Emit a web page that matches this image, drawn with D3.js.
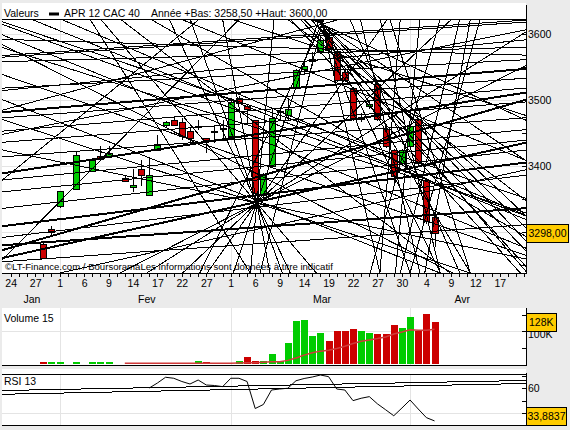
<!DOCTYPE html>
<html><head><meta charset="utf-8">
<script src="https://cdn.jsdelivr.net/npm/d3@7"></script>
<style>
html,body{margin:0;padding:0;background:#ebebeb;}
svg{display:block;font-family:"Liberation Sans",Arial,sans-serif;}
</style></head><body>
<svg id="c" width="570" height="430"></svg>
<script>
// ---------------- DATA ----------------
const dates = ["2012-01-30","2012-01-31","2012-02-01","2012-02-03","2012-02-07","2012-02-08","2012-02-09",
"2012-02-13","2012-02-14","2012-02-15","2012-02-16","2012-02-17","2012-02-20","2012-02-21","2012-02-22","2012-02-23","2012-02-24",
"2012-02-27","2012-02-28","2012-02-29","2012-03-01","2012-03-02","2012-03-05","2012-03-06","2012-03-07","2012-03-08","2012-03-09",
"2012-03-12","2012-03-13","2012-03-14","2012-03-15","2012-03-16","2012-03-19","2012-03-20","2012-03-21","2012-03-22","2012-03-23",
"2012-03-26","2012-03-27","2012-03-28","2012-03-29","2012-03-30","2012-04-02","2012-04-03","2012-04-04","2012-04-05"];
const open  = [3281,3304,3338,3364,3392,3415,3414, 3381,3367,3395,3355,3423,3461,3469,3466,3452,3458, 3441,3450,3455,3445,3503,3490,3469,3356,3399,3481, 3476,3518,3546,3558,3573,3595,3573,3542,3518,3471, 3490,3523,3455,3424,3404,3429,3471,3378,3322];
const high  = [3284,3309,3362,3422,3410,3430,3431, 3386,3395,3409,3413,3447,3468,3474,3472,3459,3470, 3443,3460,3470,3503,3506,3492,3470,3390,3487,3490, 3500,3547,3560,3572,3595,3600,3576,3548,3520,3480, 3500,3530,3460,3426,3426,3462,3473,3382,3336];
const low   = [3258.5,3296,3337,3363,3391,3409,3413, 3376,3361,3370,3354,3422,3459,3461,3439,3437,3455, 3419,3435,3438,3444,3494,3465,3343,3350,3398,3470, 3470,3517,3540,3552,3570,3575,3528,3527,3468,3466, 3486,3468,3428,3375,3400,3428,3402,3312,3278];
const close = [3260,3298.5,3361,3416,3409,3410,3419, 3377,3370,3386,3386,3433,3466,3462,3444,3442,3460, 3438,3452,3457,3496,3495,3485,3358,3387,3472,3483, 3485,3545,3550,3562,3590,3578,3530,3529,3472,3474, 3493,3470,3430,3384,3423,3460,3404,3316,3298];
const volume = [5,5,5,5,5,5,5, 1,1,1,1,1,1,1,1,1,10, 5,1,1,1,8,22,8,8,31,10, 65,131,134,84,93,71,99,99,105,101, 93,90,90,117,108,141,101,153,128];
const volumeDir = ["-","+","+","+","+","+","+", "+","+","+","+","+","+","+","+","+","+", "-","+","+","+","+","-","-","+","+","+", "+","+","+","+","+","-","-","-","-","+", "+","-","-","-","+","+","-","-","-"];
const volumeMA15 = [null,null,null,null,null,null,null, 2,2,2,2,2,2,2,2,2,2, 2,2,2,2,3,4,4,5,6.5,7, 11,18,27,34,39,42,47,54,62,69, 73,77,82,91,97,104,102,102,105];
const rsi13 = [null,null,null,null,null,null,null, null,null,null,60.2,64.2,68.8,68.0,65.4,63.4,66.6, 62.6,62.2,61.3,68.0,68.0,65.4,43.8,47.0,58.6,59.4, 60.0,66.0,67.8,69.0,70.6,69.3,59.4,58.6,50.1,52.0, 53.3,47.5,42.8,38.0,44.2,50.6,43.4,36.5,33.8837];

const xTickLabels = ["24","27","1","6","9","14","17","22","27","1","6","9","14","19","22","27","30","4","9","12","17"];
const monthLabels = ["Jan","Fev","Mar","Avr"];
const monthLabelAt = [2.6, 16.7, 38.2, 55.4];      // weekday index of month label
const monthStartIdx = [6, 27, 49];                  // 1 Feb, 1 Mar, 2 Apr
const priceTicks = [3600,3500,3400];
const priceGrid = [3600,3500,3400,3300];
const volTicks = [100];
const rsiTicks = [60];

// trend lines: [weekdayIndex1, price1, weekdayIndex2, price2]
const thinLines = [
 [-0.9,3565,63.1,3618],[-0.9,3558,63.1,3580],[-0.9,3518,63.1,3561],[-0.9,3473,63.1,3533],
 [-0.9,3453,63.1,3518],[-0.9,3436,63.1,3497],[-0.9,3414,63.1,3473],[-0.9,3379,63.1,3455],
 [-0.9,3361,63.1,3439],[-0.9,3336,63.1,3424],[-0.9,3292,63.1,3386],[-0.9,3255,63.1,3311],
 [-0.9,3614,34.3,3455],[-0.9,3598,50.2,3341],[2.4,3623,39.2,3439],[6.05,3623,63.1,3326],
 [13.4,3623,53.9,3238],[-0.9,3583,26.9,3409],[-0.9,3500,26.9,3364],[20.8,3623,63.1,3409],
 [26.9,3623,63.1,3477],[-0.9,3538,63.1,3265],[9.7,3623,29.4,3238],
 [-0.9,3618,18.3,3538],[-0.9,3579,23.2,3485],[17.1,3623,34.3,3500],[28.1,3623,15.9,3470],[23.2,3623,11.0,3500],
 [39.2,3601,63.1,3621],[35.5,3538,63.1,3606],[38.0,3561,63.1,3591],[41.6,3576,63.1,3568],
 [30.2,3344,13.4,3238],[30.2,3344,16.7,3238],[30.2,3344,21.1,3238],[30.2,3344,24.1,3238],
 [30.2,3344,27.3,3238],[30.2,3344,29.4,3238],[30.2,3344,31.8,3238],[30.2,3344,34.3,3238],
 [30.2,3344,-0.9,3424],[30.2,3344,-0.9,3470],[30.2,3344,11.0,3623],[30.2,3344,22.0,3623],
 [38.2,3615,63.1,3326],[38.2,3615,63.1,3288],[38.2,3615,56.4,3238],[38.2,3615,52.7,3238],
 [38.2,3615,49.0,3238],[38.2,3615,45.3,3238],[38.2,3615,63.1,3409],[38.2,3615,63.1,3470],
 [38.2,3615,23.2,3238],[38.2,3615,-0.9,3485],[38.2,3615,30.6,3238],
 [35.5,3623,50.2,3424],[36.7,3623,52.7,3432],[34.3,3623,47.2,3447],
 [47.8,3623,45.3,3238],[50.2,3623,47.2,3238],[52.7,3623,44.1,3238],[55.1,3623,47.8,3238],
 [56.4,3623,50.8,3238],[45.3,3623,52.7,3238],[46.5,3623,56.4,3238],[42.9,3623,50.2,3238],
 [41.6,3623,55.1,3238],[57.6,3623,49.0,3238],
 [6.05,3238,63.1,3394],[47.8,3470,63.1,3273],[45.3,3500,63.1,3242],[50.2,3470,63.1,3349]
];
const thickLines = [
 [-0.9,3389,63.1,3511],[-0.9,3309,63.1,3405],[-0.9,3261,63.1,3435],[-0.9,3280,63.1,3336],
 [17.1,3500,63.1,3547],[-0.9,3273,63.1,3500]
];
const rsiLines = [[-0.945,58.2,63.2,66.2],[-0.945,55.2,63.2,63.8]];

// ---------------- SETUP ----------------
const svg = d3.select("#c");
const RED = "#cc0000", GREEN = "#00cc00";
const t0 = Date.UTC(2012,0,24);
function wdIndex(s){
  const d = new Date(s+"T00:00:00Z");
  return d3.utcDays(new Date(t0), d).filter(v => v.getUTCDay()%6 !== 0).length;
}
const idx = dates.map(wdIndex);

const x = d3.scaleLinear().domain([-0.945, 63.1]).range([3, 525]);
const y = d3.scaleLinear().domain([3237.9, 3622.7]).range([273, 19]);
const yv = d3.scaleLinear().domain([0, 166.7]).range([364, 309]);
const yr = d3.scaleLinear().domain([30.6, 71.4]).range([425, 374]);

// panels
svg.append("rect").attr("width",570).attr("height",430).attr("fill","#ebebeb");
svg.append("rect").attr("x",2).attr("y",3).attr("width",524).attr("height",270).attr("fill","#fff");
svg.append("rect").attr("x",2).attr("y",308).attr("width",524).attr("height",57).attr("fill","#fff");
svg.append("rect").attr("x",2).attr("y",369).attr("width",524).attr("height",57).attr("fill","#fff");

const defs = svg.append("defs");
defs.append("clipPath").attr("id","cm").append("rect").attr("x",2).attr("y",19).attr("width",524).attr("height",254);
defs.append("clipPath").attr("id","cr").append("rect").attr("x",2).attr("y",374).attr("width",524).attr("height",51);

const grid = "#e4e4e4";
const g0 = svg.append("g").attr("shape-rendering","crispEdges");
priceGrid.forEach(p => g0.append("line").attr("x1",2).attr("x2",526).attr("y1",Math.round(y(p))+0.5).attr("y2",Math.round(y(p))+0.5).attr("stroke",grid));
monthStartIdx.forEach(i => {
  const xx = Math.round(x(i))+0.5;
  g0.append("line").attr("x1",xx).attr("x2",xx).attr("y1",19).attr("y2",273).attr("stroke",grid);
  g0.append("line").attr("x1",xx).attr("x2",xx).attr("y1",308).attr("y2",365).attr("stroke",grid);
  g0.append("line").attr("x1",xx).attr("x2",xx).attr("y1",374).attr("y2",425).attr("stroke",grid);
});
volTicks.forEach(v => g0.append("line").attr("x1",2).attr("x2",526).attr("y1",Math.round(yv(v))+0.5).attr("y2",Math.round(yv(v))+0.5).attr("stroke",grid));
g0.append("line").attr("x1",2).attr("x2",526).attr("y1",Math.round(yr(40))+0.5).attr("y2",Math.round(yr(40))+0.5).attr("stroke",grid);

// watermark
svg.append("text").attr("x",5).attr("y",270).attr("font-size",9.6).attr("fill","#000")
  .text("©LT-Finance.com / BoursoramaLes informations sont données à titre indicatif");

// candles
const cg = svg.append("g").attr("clip-path","url(#cm)").attr("shape-rendering","crispEdges");
dates.forEach((d,k) => {
  const cx = Math.round(x(idx[k]));
  cg.append("line").attr("x1",cx+0.5).attr("x2",cx+0.5).attr("y1",y(high[k])).attr("y2",y(low[k])).attr("stroke","#000");
  const top = y(Math.max(open[k],close[k])), bot = y(Math.min(open[k],close[k]));
  cg.append("rect").attr("x",cx-2.5).attr("y",top).attr("width",6).attr("height",Math.max(1,bot-top))
    .attr("fill", close[k] >= open[k] ? GREEN : RED).attr("stroke","#000");
});

// trend lines
function ext(l, sx, sy){
  const x1=sx(l[0]), y1=sy(l[1]), x2=sx(l[2]), y2=sy(l[3]);
  const dx=x2-x1, dy=y2-y1, k=1500/Math.hypot(dx,dy);
  return [x1-dx*k, y1-dy*k, x2+dx*k, y2+dy*k];
}
const tg = svg.append("g").attr("clip-path","url(#cm)").attr("shape-rendering","crispEdges");
thinLines.forEach(l => { const e = ext(l,x,y);
  tg.append("line").attr("x1",e[0]).attr("y1",e[1]).attr("x2",e[2]).attr("y2",e[3]).attr("stroke","#000").attr("stroke-width",1); });
thickLines.forEach(l => { const e = ext(l,x,y);
  tg.append("line").attr("x1",e[0]).attr("y1",e[1]).attr("x2",e[2]).attr("y2",e[3]).attr("stroke","#000").attr("stroke-width",2); });

// frame lines
const fr = svg.append("g").attr("shape-rendering","crispEdges").attr("stroke","#000");
fr.append("line").attr("x1",2).attr("x2",526).attr("y1",19.5).attr("y2",19.5);
fr.append("line").attr("x1",2).attr("x2",526).attr("y1",273.5).attr("y2",273.5);
fr.append("line").attr("x1",526.5).attr("x2",526.5).attr("y1",5).attr("y2",274);
fr.append("line").attr("x1",2).attr("x2",526).attr("y1",365.5).attr("y2",365.5);
fr.append("line").attr("x1",526.5).attr("x2",526.5).attr("y1",308).attr("y2",366);
fr.append("line").attr("x1",2).attr("x2",526).attr("y1",374.5).attr("y2",374.5);
fr.append("line").attr("x1",2).attr("x2",526).attr("y1",425.5).attr("y2",425.5);
fr.append("line").attr("x1",526.5).attr("x2",526.5).attr("y1",373).attr("y2",426);

d3.range(3250,3601,50).forEach(p => fr.append("line").attr("x1",522).attr("x2",526).attr("y1",Math.round(y(p))+0.5).attr("y2",Math.round(y(p))+0.5));
[50,100,150].forEach(v => fr.append("line").attr("x1",522).attr("x2",526).attr("y1",Math.round(yv(v))+0.5).attr("y2",Math.round(yv(v))+0.5));
[40,50,60,70].forEach(v => fr.append("line").attr("x1",522).attr("x2",526).attr("y1",Math.round(yr(v))+0.5).attr("y2",Math.round(yr(v))+0.5));

// x axis
const tickIdx = xTickLabels.map((t,k) => k*3);
const xAxis = d3.axisBottom(x).tickValues(tickIdx).tickFormat((d,k) => xTickLabels[k]).tickSize(0).tickPadding(7);
const xa = svg.append("g").attr("transform","translate(0,273)").call(xAxis);
xa.select(".domain").remove();
xa.selectAll("text").attr("font-size",10.5).attr("font-family","Liberation Sans, Arial, sans-serif").attr("fill","#000");
d3.range(0,64).forEach(i => fr.append("line").attr("x1",Math.round(x(i))+0.5).attr("x2",Math.round(x(i))+0.5).attr("y1",274).attr("y2",277));
monthLabels.forEach((m,k) => svg.append("text").attr("x",x(monthLabelAt[k])).attr("y",303).attr("text-anchor","middle").attr("font-size",10.5).text(m));

// right labels
const lab = svg.append("g").attr("font-size",10.5).attr("fill","#000");
priceTicks.forEach(p => lab.append("text").attr("x",528).attr("y",y(p)).attr("dy","0.35em").text(p));
volTicks.forEach(v => lab.append("text").attr("x",528).attr("y",yv(v)+3).attr("dy","0.35em").text(v+"K"));
rsiTicks.forEach(v => lab.append("text").attr("x",528).attr("y",yr(v)).attr("dy","0.35em").text(v));

function valueBox(cy, w, txt){
  const g = svg.append("g");
  g.append("rect").attr("x",526.5).attr("y",Math.round(cy-9)+0.5).attr("width",w).attr("height",18)
    .attr("fill","#ffcc00").attr("stroke","#000").attr("shape-rendering","crispEdges");
  g.append("text").attr("x",526.5+w/2).attr("y",cy).attr("dy","0.36em").attr("text-anchor","middle").attr("font-size",10.5).text(txt);
}
const last = close.length-1;
valueBox(y(close[last]), 42, d3.format(".2f")(close[last]).replace(".",","));

// title
svg.append("text").attr("x",4).attr("y",17).attr("font-size",10.5).text("Valeurs");
svg.append("rect").attr("x",49).attr("y",12.5).attr("width",10).attr("height",3).attr("fill","#000");
svg.append("text").attr("x",64).attr("y",17).attr("font-size",10.5).text("APR 12 CAC 40");
svg.append("text").attr("x",151).attr("y",17).attr("font-size",10.5)
  .text("Année +Bas: " + d3.format(".2f")(d3.min(low)).replace(".",",") + " +Haut: " + d3.format(".2f")(d3.max(high)).replace(".",","));

// volume
const vg = svg.append("g").attr("shape-rendering","crispEdges");
dates.forEach((d,k) => {
  const cx = Math.round(x(idx[k]));
  vg.append("rect").attr("x",cx-3).attr("y",yv(volume[k])).attr("width",7).attr("height",yv(0)-yv(volume[k]))
    .attr("fill", volumeDir[k] === "+" ? GREEN : RED);
});
const maPts = dates.map((d,k) => [idx[k], volumeMA15[k]]).filter(p => p[1] != null);
svg.append("path").datum(maPts).attr("fill","none").attr("stroke","#d03a3a").attr("stroke-width",1.5)
  .attr("d", d3.line().x(p => x(p[0])).y(p => yv(p[1])));
svg.append("text").attr("x",4).attr("y",322).attr("font-size",10.5).text("Volume 15");
valueBox(yv(volume[last]), 29.5, Math.round(volume[last])+"K");

// RSI
const rg = svg.append("g").attr("clip-path","url(#cr)").attr("shape-rendering","crispEdges");
rsiLines.forEach(l => { const e = ext(l,x,yr);
  rg.append("line").attr("x1",e[0]).attr("y1",e[1]).attr("x2",e[2]).attr("y2",e[3]).attr("stroke","#000"); });
const rsiPts = dates.map((d,k) => [idx[k], rsi13[k]]).filter(p => p[1] != null);
svg.append("path").datum(rsiPts).attr("fill","none").attr("stroke","#000").attr("stroke-width",1)
  .attr("d", d3.line().x(p => x(p[0])).y(p => yr(p[1])));
svg.append("text").attr("x",4).attr("y",384.5).attr("font-size",10.5).text("RSI 13");
valueBox(Math.min(yr(rsi13[last]), 416), 40, String(rsi13[last]).replace(".",","));
</script>
</body></html>
